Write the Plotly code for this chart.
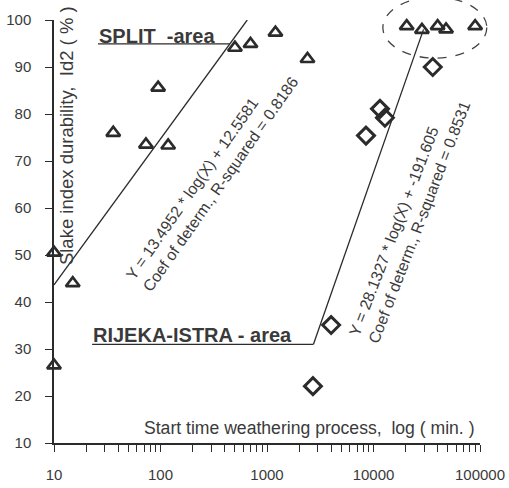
import plotly.graph_objects as go

# ---- data ----
split_x = [10, 10, 15, 36, 73, 118, 95, 500, 700, 1200, 2400,
           20500, 28500, 40000, 48000, 90000]
split_y = [50.5, 26.5, 44.0, 76.0, 73.5, 73.3, 85.6, 94.1, 94.9, 97.3, 91.7,
           98.7, 97.9, 98.7, 98.0, 98.7]

rijeka_x = [2700, 4000, 8500, 11500, 12800, 36000]
rijeka_y = [22.1, 35.1, 75.4, 81.1, 79.2, 90.0]

split_fit_x = [10, 652]
split_fit_y = [43.63, 100.0]
rijeka_fit_x = [2730, 29500]
rijeka_fit_y = [31.0, 98.0]

split_label_line_x = [25.9, 446]
split_label_line_y = [94.9, 94.9]
rijeka_label_line_x = [22.8, 2730]
rijeka_label_line_y = [31.0, 31.0]

x_tick_vals = [10, 100, 1000, 10000, 100000]
x_tick_text = ["10", "100", "1000", "10000", "100000"]
y_tick_vals = [10, 20, 30, 40, 50, 60, 70, 80, 90, 100]

minor_vals = [m * d for d in [10, 100, 1000, 10000] for m in range(2, 10)]

INK = "#2b2b2b"
TXT = "#3a3a3a"
FONT = "Liberation Sans, Arial, sans-serif"

fig = go.Figure()

for fx, fy in [(split_fit_x, split_fit_y), (rijeka_fit_x, rijeka_fit_y),
               (split_label_line_x, split_label_line_y),
               (rijeka_label_line_x, rijeka_label_line_y)]:
    fig.add_trace(go.Scatter(x=fx, y=fy, mode="lines",
                             line=dict(color=INK, width=1.3),
                             hoverinfo="skip", showlegend=False))

fig.add_trace(go.Scatter(x=split_x, y=split_y, mode="markers", name="SPLIT",
                         marker=dict(symbol="triangle-up-open", size=12,
                                     color=INK, line=dict(color=INK, width=2.7)),
                         cliponaxis=False, showlegend=False))
fig.add_trace(go.Scatter(x=rijeka_x, y=rijeka_y, mode="markers", name="RIJEKA-ISTRA",
                         marker=dict(symbol="diamond-open", size=13,
                                     color=INK, line=dict(color=INK, width=3)),
                         cliponaxis=False, showlegend=False))

fig.update_layout(
    width=509, height=488,
    margin=dict(l=54, r=29, t=20, b=45, autoexpand=False),
    paper_bgcolor="white", plot_bgcolor="white",
    font=dict(family=FONT, color=TXT, size=15),
    showlegend=False,
    xaxis=dict(type="log", range=[1, 5], tickmode="array",
               tickvals=x_tick_vals, ticktext=x_tick_text,
               showgrid=False, zeroline=False, automargin=False,
               showline=True, linecolor=INK, linewidth=1.5,
               ticks="outside", ticklen=7, tickwidth=1.2, tickcolor=INK,
               ticklabelstandoff=10,
               tickfont=dict(size=15, color=TXT),
               minor=dict(tickvals=minor_vals, ticks="outside", ticklen=7,
                          tickwidth=1.2, tickcolor=INK, showgrid=False)),
    yaxis=dict(range=[10, 100], tickmode="array", tickvals=y_tick_vals,
               showgrid=False, zeroline=False, automargin=False,
               showline=True, linecolor=INK, linewidth=1.5,
               ticks="outside", ticklen=7, tickwidth=1.2, tickcolor=INK,
               ticklabelstandoff=11,
               tickfont=dict(size=15, color=TXT)),
)

# axis titles drawn inside the plot area
fig.add_annotation(text="Start time weathering process,  log ( min. )",
                   xref="paper", yref="paper", x=0.60, y=0.036,
                   xanchor="center", yanchor="middle", showarrow=False,
                   font=dict(size=17.6, color=TXT))
fig.add_annotation(text="Slake index durability,  Id2 ( % )",
                   xref="paper", yref="paper", x=0.031, y=0.726,
                   xanchor="center", yanchor="middle", showarrow=False,
                   textangle=-90, font=dict(size=18.5, color=TXT))

# area labels
fig.add_annotation(text="<b>SPLIT  -area</b>", xref="paper", yref="paper",
                   x=0.101, y=0.963, xanchor="left", yanchor="middle",
                   showarrow=False, font=dict(size=20, color=TXT))
fig.add_annotation(text="<b>RIJEKA-ISTRA - area</b>", xref="paper", yref="paper",
                   x=0.087, y=0.255, xanchor="left", yanchor="middle",
                   showarrow=False, font=dict(size=20, color=TXT))

# regression equations
fig.add_annotation(text="Y = 13.4952 * log(X) + 12.5581<br>Coef of determ., R-squared = 0.8186",
                   xref="paper", yref="paper", x=0.372, y=0.627,
                   xanchor="center", yanchor="middle", align="left",
                   showarrow=False, textangle=-55, font=dict(size=15.8, color=TXT))
fig.add_annotation(text="Y = 28.1327 * log(X) + -191.605<br>Coef of determ., R-squared = 0.8531",
                   xref="paper", yref="paper", x=0.835, y=0.530,
                   xanchor="center", yanchor="middle", align="left",
                   showarrow=False, textangle=-69, font=dict(size=15.8, color=TXT))

# dashed ellipse around the top-right cluster
fig.add_shape(type="circle", xref="paper", yref="paper",
              x0=0.772, x1=1.016, y0=0.910, y1=1.054,
              line=dict(color="#444444", width=1.3, dash="dash"))

fig.write_html("out.html",
               config={"displayModeBar": False},
               post_script="document.body.style.margin='0';"
                           "document.body.style.overflow='hidden';")
